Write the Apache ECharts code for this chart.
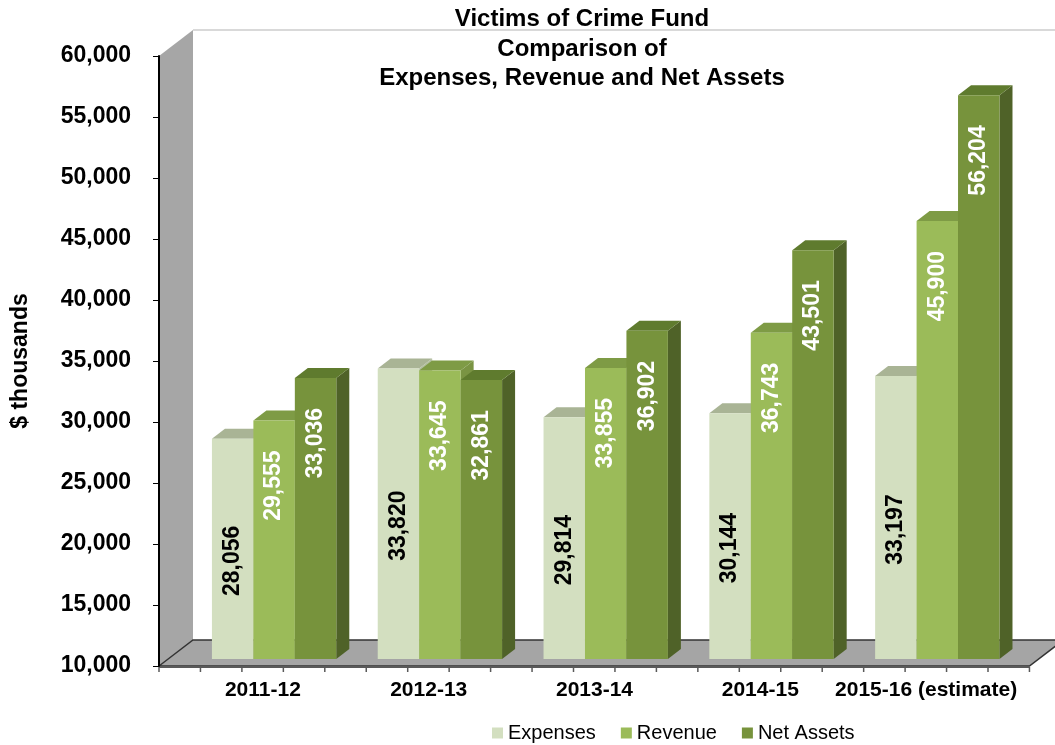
<!DOCTYPE html>
<html><head><meta charset="utf-8">
<script src="https://cdn.jsdelivr.net/npm/echarts@6/dist/echarts.min.js"></script>
<style>html,body{margin:0;padding:0;background:#fff}#c{width:1055px;height:745px}</style>
</head><body><div id="c"></div>
<script>
// ---- data ----
const categories = ['2011-12', '2012-13', '2013-14', '2014-15', '2015-16 (estimate)'];
const expenses  = [28056, 33820, 29814, 30144, 33197];
const revenue   = [29555, 33645, 33855, 36743, 45900];
const netAssets = [33036, 32861, 36902, 43501, 56204];
const seriesNames = ['Expenses', 'Revenue', 'Net Assets'];
const yMin = 10000, yMax = 60000, yInterval = 5000;
const titleLines = ['Victims of Crime Fund', 'Comparison of', 'Expenses, Revenue and Net Assets'];
const yAxisName = '$ thousands';

// ---- styling / geometry constants ----
const FONT = '"Liberation Sans", Arial, sans-serif';
const DX = 34, DY = -26;      // wall depth
const FDX = 9, FDY = -7;      // bar front face depth shift
const BDX = 13, BDY = -10;    // bar depth
const GAP = 0.265;            // gap before group (fraction of band)
const palette = [
  {front: '#d3dfc0', top: '#a9b495', side: '#b2bf9f', label: '#000000'},
  {front: '#9bbb59', top: '#7e9b45', side: '#7a9443', label: '#ffffff'},
  {front: '#77933c', top: '#5f7b2e', side: '#4f6228', label: '#ffffff'}
];
const seriesData = [expenses, revenue, netAssets];

function fmt(v) { return v.toLocaleString('en-US'); }

function renderFrame(params, api) {
  const cs = params.coordSys;
  const x0 = cs.x, y0 = cs.y, w = cs.width, h = cs.height;
  const yb = y0 + h;
  const q = w / 20;
  const xr = x0 + 21 * q;
  const ch = [];
  ch.push({type: 'line', shape: {x1: x0 + DX, y1: y0 + DY, x2: xr + DX + 40, y2: y0 + DY},
           style: {stroke: '#d9d9d9', lineWidth: 2}});
  ch.push({type: 'polygon', shape: {points: [[x0, y0], [x0 + DX, y0 + DY], [x0 + DX, yb + DY], [x0, yb]]},
           style: {fill: '#a6a6a6'}});
  ch.push({type: 'polygon', shape: {points: [[x0, yb], [x0 + DX, yb + DY], [xr + DX, yb + DY], [xr, yb]]},
           style: {fill: '#a5a5a5'}});
  ch.push({type: 'polyline', shape: {points: [[x0, yb], [x0 + DX, yb + DY], [xr + DX, yb + DY], [xr, yb], [x0, yb]]},
           style: {stroke: '#333333', lineWidth: 1.5, fill: null}});
  ch.push({type: 'line', shape: {x1: x0, y1: yb + 1, x2: xr, y2: yb + 1}, style: {stroke: '#595959', lineWidth: 2}});
  for (let k = 0; k <= 21; k++) {
    const x = x0 + k * q;
    ch.push({type: 'line', shape: {x1: x, y1: yb + 1, x2: x, y2: yb + 6}, style: {stroke: '#595959', lineWidth: 1.5}});
  }
  return {type: 'group', children: ch};
}

function makeBarRender(sIdx) {
  const col = palette[sIdx];
  return function (params, api) {
    const ci = api.value(0), v = api.value(1);
    const b = api.coord([ci, yMin]);
    const t = api.coord([ci, v]);
    const band = api.size([1, 0])[0];
    const bw = band / 4;
    const xl = b[0] - band / 2 + GAP * band + FDX + sIdx * bw;
    const xr = xl + bw;
    const yb = b[1] + FDY, yt = t[1] + FDY;
    const cx = (xl + xr) / 2;
    let label;
    if (sIdx === 0) {
      label = {type: 'text', x: cx, y: (yt + yb) / 2 + 12, rotation: Math.PI / 2,
        style: {text: fmt(v), fill: col.label, font: 'bold 23px ' + FONT, align: 'center', verticalAlign: 'middle'}};
    } else {
      label = {type: 'text', x: cx, y: yt + 30, rotation: Math.PI / 2,
        style: {text: fmt(v), fill: col.label, font: 'bold 23px ' + FONT, align: 'right', verticalAlign: 'middle'}};
    }
    return {type: 'group', children: [
      {type: 'polygon', shape: {points: [[xr, yt], [xr + BDX, yt + BDY], [xr + BDX, yb + BDY], [xr, yb]]}, style: {fill: col.side}},
      {type: 'polygon', shape: {points: [[xl, yt], [xl + BDX, yt + BDY], [xr + BDX, yt + BDY], [xr, yt]]}, style: {fill: col.top}},
      {type: 'rect', shape: {x: xl, y: yt, width: bw, height: yb - yt}, style: {fill: col.front}},
      label
    ]};
  };
}

const chart = echarts.init(document.getElementById('c'), null, {renderer: 'canvas'});
const barSeries = seriesNames.map((name, s) => ({
  name: name,
  type: 'custom',
  z: 2,
  renderItem: makeBarRender(s),
  itemStyle: {color: palette[s].front},
  encode: {x: 0, y: 1},
  data: seriesData[s].map((v, i) => [i, v])
}));

chart.setOption({
  animation: false,
  backgroundColor: '#ffffff',
  graphic: [{
    type: 'text', x: 582, y: 5, z: 100,
    style: {text: titleLines.join('\n'), font: 'bold 24px ' + FONT, fill: '#000', align: 'center',
            verticalAlign: 'top', lineHeight: 29.5}
  }],
  grid: {left: 159, top: 56, width: 829, height: 610, containLabel: false, outerBoundsMode: 'none'},
  xAxis: {
    type: 'category', data: categories,
    axisLine: {show: false}, axisTick: {show: false},
    axisLabel: {fontFamily: FONT, fontWeight: 'bold', fontSize: 21, color: '#000', margin: 14,
                padding: [0, 0, 0, 42], interval: 0}
  },
  yAxis: {
    type: 'value', min: yMin, max: yMax, interval: yInterval, z: 10,
    name: yAxisName, nameLocation: 'middle', nameRotate: 90, nameGap: 127,
    nameTextStyle: {fontFamily: FONT, fontWeight: 'bold', fontSize: 23, color: '#000'},
    axisLine: {show: true, lineStyle: {color: '#000', width: 2}},
    axisTick: {show: true, length: 6, lineStyle: {color: '#000', width: 1}},
    splitLine: {show: false},
    axisLabel: {fontFamily: FONT, fontWeight: 'bold', fontSize: 23, color: '#000', margin: 28,
                formatter: v => fmt(v)}
  },
  legend: {
    data: seriesNames, left: 492, top: 723, padding: 0, itemGap: 25,
    itemWidth: 11, itemHeight: 11, icon: 'rect',
    textStyle: {fontFamily: FONT, fontSize: 20, color: '#000'}
  },
  series: [{
    name: 'frame', type: 'custom', z: 1, silent: true,
    renderItem: renderFrame, encode: {x: 0, y: 1}, data: [[0, yMin]]
  }].concat(barSeries)
});
</script>
</body></html>
